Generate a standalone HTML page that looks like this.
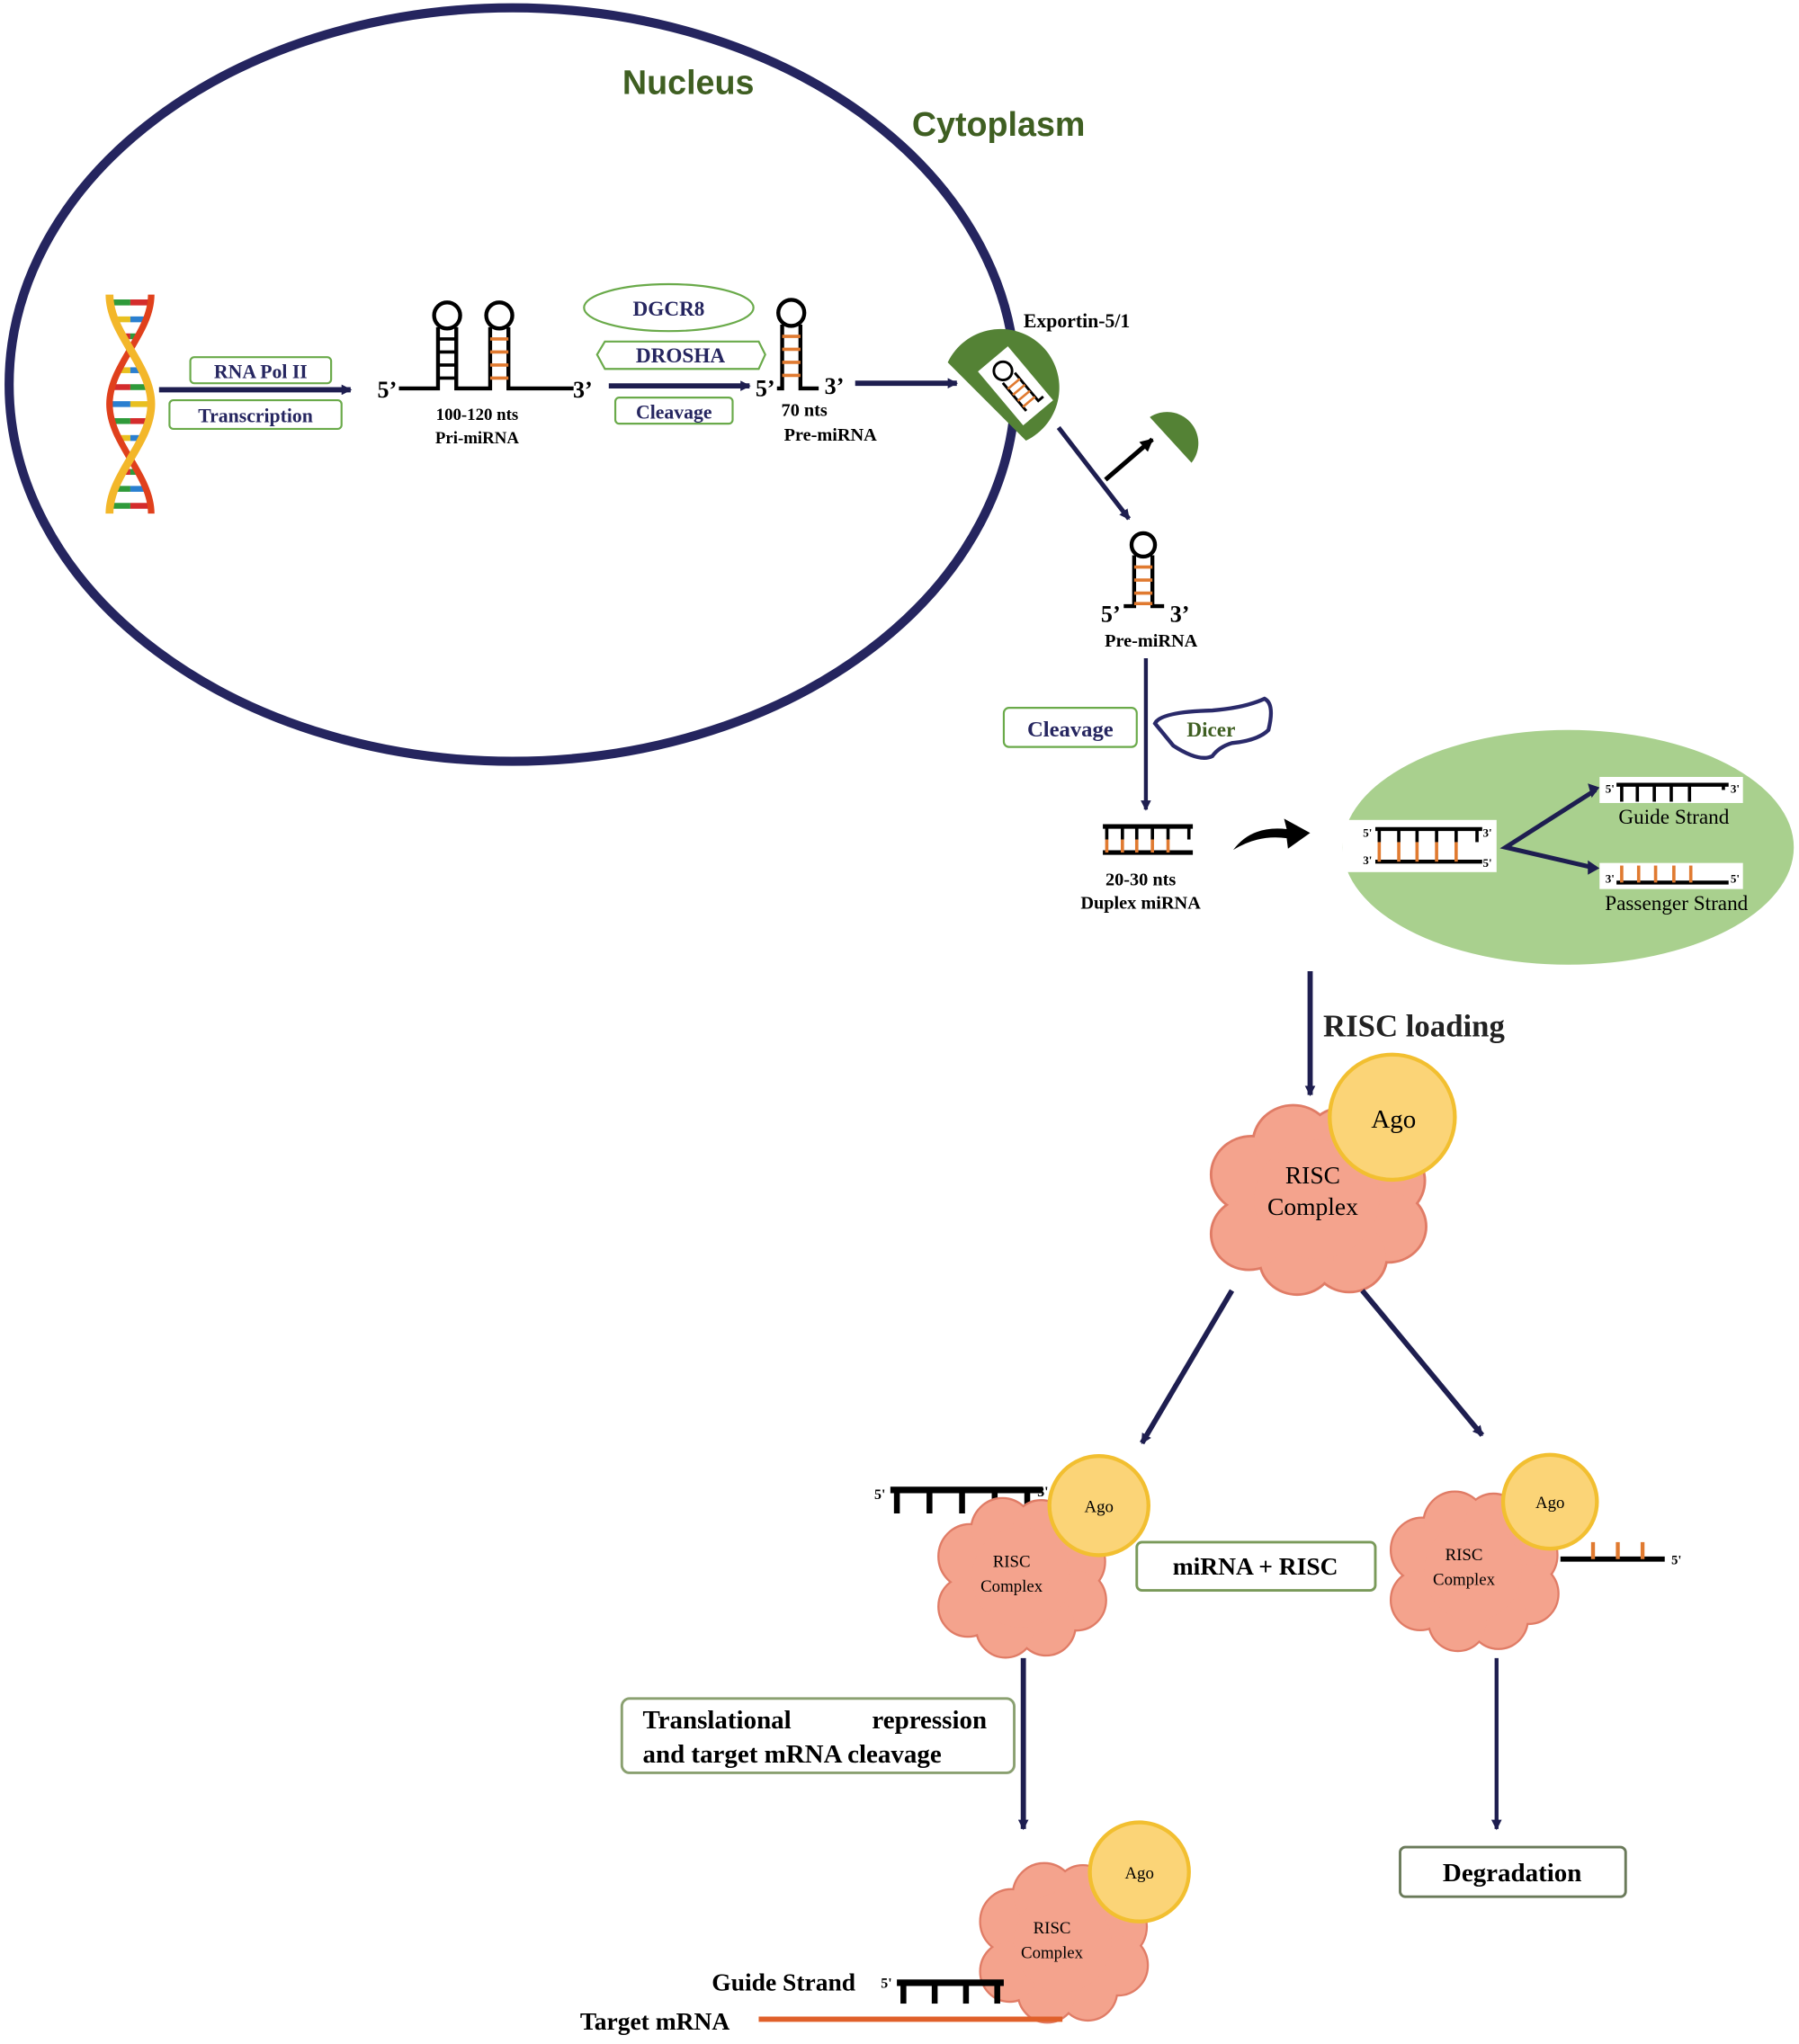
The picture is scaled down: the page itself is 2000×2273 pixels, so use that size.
<!DOCTYPE html>
<html><head><meta charset="utf-8">
<style>
html,body{margin:0;padding:0;background:#fff;}
svg{display:block;}
.t{font-family:"Liberation Serif",serif;font-weight:bold;}
.s{font-family:"Liberation Sans",sans-serif;font-weight:bold;}
</style></head>
<body>
<svg width="2000" height="2273" viewBox="0 0 1380 1568" preserveAspectRatio="none" xmlns="http://www.w3.org/2000/svg">
<defs>
<marker id="ah" markerWidth="8" markerHeight="8" refX="7" refY="4" orient="auto" markerUnits="userSpaceOnUse"><path d="M0,0 L8,4 L0,8 Z" fill="#1e1e50"/></marker>
<marker id="ahk" markerWidth="10" markerHeight="10" refX="9" refY="5" orient="auto" markerUnits="userSpaceOnUse"><path d="M0,0 L10,5 L0,10 Z" fill="#000"/></marker>
<g id="cloudS">
<circle cx="-50" cy="-20" r="30"/><circle cx="-18" cy="-45" r="30"/><circle cx="20" cy="-45" r="28"/><circle cx="52" cy="-15" r="30"/><circle cx="55" cy="22" r="28"/><circle cx="25" cy="46" r="28"/><circle cx="-15" cy="48" r="28"/><circle cx="-52" cy="28" r="28"/><circle cx="0" cy="0" r="48"/>
</g>
<g id="cloud">
<use href="#cloudS" fill="#e07c66" stroke="#e07c66" stroke-width="4"/>
<use href="#cloudS" fill="#f4a38d"/>
</g>
</defs>

<!-- Nucleus -->
<ellipse cx="393" cy="295" rx="386" ry="289" fill="none" stroke="#25255f" stroke-width="7"/>
<text x="528" y="72" class="s" font-size="26" fill="#3f5f22" text-anchor="middle">Nucleus</text>
<text x="766" y="104" class="s" font-size="26" fill="#3f5f22" text-anchor="middle">Cytoplasm</text>

<!-- DNA -->
<g stroke-width="4">
<g stroke-width="4.5">
<line x1="84.4" y1="232" x2="100" y2="232" stroke="#2f9a3a"/><line x1="100" y1="232" x2="115.6" y2="232" stroke="#d42c2c"/>
<line x1="88" y1="245" x2="100" y2="245" stroke="#e8c020"/><line x1="100" y1="245" x2="112" y2="245" stroke="#2a7fd0"/>
<line x1="94" y1="258" x2="100" y2="258" stroke="#d42c2c"/><line x1="100" y1="258" x2="106" y2="258" stroke="#2f9a3a"/>
<line x1="91" y1="284" x2="100" y2="284" stroke="#e8c020"/><line x1="100" y1="284" x2="109" y2="284" stroke="#2a7fd0"/>
<line x1="86" y1="297" x2="100" y2="297" stroke="#d42c2c"/><line x1="100" y1="297" x2="114" y2="297" stroke="#2f9a3a"/>
<line x1="84" y1="310" x2="100" y2="310" stroke="#2a7fd0"/><line x1="100" y1="310" x2="116" y2="310" stroke="#e8c020"/>
<line x1="86" y1="323" x2="100" y2="323" stroke="#2f9a3a"/><line x1="100" y1="323" x2="114" y2="323" stroke="#d42c2c"/>
<line x1="91" y1="336" x2="100" y2="336" stroke="#e8c020"/><line x1="100" y1="336" x2="109" y2="336" stroke="#2a7fd0"/>
<line x1="94" y1="362" x2="100" y2="362" stroke="#d42c2c"/><line x1="100" y1="362" x2="106" y2="362" stroke="#2f9a3a"/>
<line x1="88" y1="375" x2="100" y2="375" stroke="#2f9a3a"/><line x1="100" y1="375" x2="112" y2="375" stroke="#2a7fd0"/>
<line x1="84.4" y1="388" x2="100" y2="388" stroke="#2f9a3a"/><line x1="100" y1="388" x2="115.6" y2="388" stroke="#d42c2c"/>
</g>
<path d="M116,226 C116,256 84,280 84,310 C84,340 116,364 116,394" fill="none" stroke="#e0401c" stroke-width="5"/>
<path d="M84,226 C84,256 116,280 116,310 C116,340 84,364 84,394" fill="none" stroke="#f3b72a" stroke-width="6"/>
</g>

<!-- arrow 1 -->
<line x1="122" y1="299" x2="269" y2="299" stroke="#1e1e50" stroke-width="4" marker-end="url(#ah)"/>
<rect x="146" y="274" width="108" height="20" rx="3" fill="#fff" stroke="#6aaa4a" stroke-width="1.5"/>
<text x="200" y="290" class="t" font-size="15" fill="#262660" text-anchor="middle">RNA Pol II</text>
<rect x="130" y="307" width="132" height="22" rx="3" fill="#fff" stroke="#6aaa4a" stroke-width="1.5"/>
<text x="196" y="324" class="t" font-size="15" fill="#262660" text-anchor="middle">Transcription</text>

<!-- Pri-miRNA -->
<g stroke="#000" stroke-width="3" fill="none">
<path d="M306,298 H336 V251 M350,251 V298 H376 V251 M390,251 V298 H440"/>
<circle cx="343" cy="242" r="10"/><circle cx="383" cy="242" r="10"/>
</g>
<g stroke="#000" stroke-width="2.5">
<line x1="336" y1="260" x2="350" y2="260"/><line x1="336" y1="270" x2="350" y2="270"/><line x1="336" y1="280" x2="350" y2="280"/><line x1="336" y1="290" x2="350" y2="290"/>
</g>
<g stroke="#e07a30" stroke-width="2.5">
<line x1="376" y1="260" x2="390" y2="260"/><line x1="376" y1="270" x2="390" y2="270"/><line x1="376" y1="280" x2="390" y2="280"/><line x1="376" y1="290" x2="390" y2="290"/>
</g>
<text x="297" y="305" class="t" font-size="18" text-anchor="middle">5’</text>
<text x="447" y="305" class="t" font-size="18" text-anchor="middle">3’</text>
<text x="366" y="322" class="t" font-size="13" text-anchor="middle">100-120 nts</text>
<text x="366" y="340" class="t" font-size="13" text-anchor="middle">Pri-miRNA</text>

<!-- DGCR8 / DROSHA -->
<ellipse cx="513" cy="236" rx="65" ry="18" fill="#fff" stroke="#6aaa4a" stroke-width="1.5"/>
<text x="513" y="242" class="t" font-size="16" fill="#262660" text-anchor="middle">DGCR8</text>
<polygon points="464,262 582,262 587,272 582,283 464,283 458,272" fill="#fff" stroke="#6aaa4a" stroke-width="1.5"/>
<text x="522" y="278" class="t" font-size="16" fill="#262660" text-anchor="middle">DROSHA</text>
<line x1="467" y1="296" x2="575" y2="296" stroke="#1e1e50" stroke-width="4" marker-end="url(#ah)"/>
<rect x="472" y="305" width="90" height="20" rx="3" fill="#fff" stroke="#6aaa4a" stroke-width="1.5"/>
<text x="517" y="321" class="t" font-size="15" fill="#262660" text-anchor="middle">Cleavage</text>

<!-- Pre-miRNA nucleus -->
<g stroke="#000" stroke-width="3" fill="none">
<path d="M596,298 H600 V249 M614,249 V298 H628"/>
<circle cx="607" cy="240" r="10"/>
</g>
<g stroke="#e07a30" stroke-width="2.5">
<line x1="600" y1="258" x2="614" y2="258"/><line x1="600" y1="268" x2="614" y2="268"/><line x1="600" y1="278" x2="614" y2="278"/><line x1="600" y1="288" x2="614" y2="288"/>
</g>
<text x="587" y="304" class="t" font-size="18" text-anchor="middle">5’</text>
<text x="640" y="302" class="t" font-size="18" text-anchor="middle">3’</text>
<text x="617" y="319" class="t" font-size="14" text-anchor="middle">70 nts</text>
<text x="637" y="338" class="t" font-size="14" text-anchor="middle">Pre-miRNA</text>
<line x1="656" y1="294" x2="734" y2="294" stroke="#1e1e50" stroke-width="4" marker-end="url(#ah)"/>

<!-- Exportin -->
<path d="M727,278 A45,45 0 1 1 787,338 Z" fill="#548235"/>
<g transform="translate(779,296) rotate(-40)">
<rect x="-15" y="-27" width="30" height="54" fill="#fff"/>
<g stroke="#000" stroke-width="2" fill="none"><path d="M-6,-8 V20 M6,-8 V20 H11"/><circle cx="0" cy="-15" r="7"/></g>
<g stroke="#e07a30" stroke-width="1.8"><line x1="-6" y1="-2" x2="6" y2="-2"/><line x1="-6" y1="4" x2="6" y2="4"/><line x1="-6" y1="10" x2="6" y2="10"/><line x1="-6" y1="16" x2="6" y2="16"/></g>
</g>
<text x="826" y="251" class="t" font-size="15" text-anchor="middle">Exportin-5/1</text>

<line x1="812" y1="328" x2="866" y2="398" stroke="#1e1e50" stroke-width="3.5" marker-end="url(#ah)"/>
<line x1="848" y1="368" x2="884" y2="337" stroke="#000" stroke-width="3.5" marker-end="url(#ahk)"/>
<path d="M882,320 A24,24 0 0 1 914,355 Z" fill="#548235"/>

<!-- Pre-miRNA cytoplasm -->
<g stroke="#000" stroke-width="3" fill="none">
<path d="M862,465 H870 V426 M884,426 V465 H893"/>
<circle cx="877" cy="418" r="9"/>
</g>
<g stroke="#e07a30" stroke-width="2.5">
<line x1="870" y1="435" x2="884" y2="435"/><line x1="870" y1="445" x2="884" y2="445"/><line x1="870" y1="455" x2="884" y2="455"/><line x1="870" y1="463" x2="884" y2="463"/>
</g>
<text x="852" y="477" class="t" font-size="18" text-anchor="middle">5’</text>
<text x="905" y="477" class="t" font-size="18" text-anchor="middle">3’</text>
<text x="883" y="496" class="t" font-size="14" text-anchor="middle">Pre-miRNA</text>
<line x1="879" y1="505" x2="879" y2="621" stroke="#1e1e50" stroke-width="3" marker-end="url(#ah)"/>
<rect x="770" y="543" width="102" height="30" rx="4" fill="#fff" stroke="#6aaa4a" stroke-width="1.5"/>
<text x="821" y="565" class="t" font-size="17" fill="#262660" text-anchor="middle">Cleavage</text>
<path d="M886,555 Q890,546 930,545 Q955,543 970,536 Q978,540 973,560 Q965,568 945,570 Q935,573 930,580 Q920,585 900,572 Z" fill="none" stroke="#2a2a6a" stroke-width="3"/>
<text x="929" y="565" class="t" font-size="16" fill="#3f5f22" text-anchor="middle">Dicer</text>

<!-- duplex -->
<line x1="846" y1="634" x2="915" y2="634" stroke="#000" stroke-width="3.5"/>
<line x1="846" y1="654" x2="915" y2="654" stroke="#000" stroke-width="3.5"/>
<g stroke-width="2.5"><g stroke="#000"><line x1="849" y1="634" x2="849" y2="644"/><line x1="861" y1="634" x2="861" y2="644"/><line x1="872" y1="634" x2="872" y2="644"/><line x1="884" y1="634" x2="884" y2="644"/><line x1="896" y1="634" x2="896" y2="644"/><line x1="912" y1="634" x2="912" y2="644"/></g>
<g stroke="#e07a30"><line x1="849" y1="644" x2="849" y2="654"/><line x1="861" y1="644" x2="861" y2="654"/><line x1="872" y1="644" x2="872" y2="654"/><line x1="884" y1="644" x2="884" y2="654"/><line x1="896" y1="644" x2="896" y2="654"/></g></g>
<text x="875" y="679" class="t" font-size="14" text-anchor="middle">20-30 nts</text>
<text x="875" y="697" class="t" font-size="14" text-anchor="middle">Duplex miRNA</text>
<path d="M946,652 Q960,633 987,636 L985,628 L1005,639 L988,651 L987,643 Q965,640 946,652 Z" fill="#000"/>

<!-- green ellipse -->
<ellipse cx="1203" cy="650" rx="173" ry="90" fill="#a9d08e"/>
<rect x="1030" y="629" width="118" height="40" fill="#fff"/>
<line x1="1055" y1="636" x2="1137" y2="636" stroke="#000" stroke-width="3"/>
<line x1="1055" y1="661" x2="1137" y2="661" stroke="#000" stroke-width="3"/>
<g stroke-width="2.5"><g stroke="#000"><line x1="1058" y1="636" x2="1058" y2="646"/><line x1="1073" y1="636" x2="1073" y2="646"/><line x1="1087" y1="636" x2="1087" y2="646"/><line x1="1102" y1="636" x2="1102" y2="646"/><line x1="1117" y1="636" x2="1117" y2="646"/><line x1="1133" y1="636" x2="1133" y2="646"/></g>
<g stroke="#e07a30"><line x1="1058" y1="646" x2="1058" y2="661"/><line x1="1073" y1="646" x2="1073" y2="661"/><line x1="1087" y1="646" x2="1087" y2="661"/><line x1="1102" y1="646" x2="1102" y2="661"/><line x1="1117" y1="646" x2="1117" y2="661"/></g></g>
<text x="1049" y="642" class="t" font-size="9" text-anchor="middle">5'</text><text x="1141" y="642" class="t" font-size="9" text-anchor="middle">3'</text>
<text x="1049" y="663" class="t" font-size="9" text-anchor="middle">3'</text><text x="1141" y="665" class="t" font-size="9" text-anchor="middle">5'</text>
<path d="M1224,606 L1155,650 L1224,666" fill="none" stroke="#1e1e50" stroke-width="3.5"/>
<path d="M1218,601 L1227,604 L1221,612 Z M1218,660 L1227,666 L1218,671 Z" fill="#1e1e50"/>
<rect x="1227" y="596" width="110" height="20" fill="#fff"/>
<line x1="1240" y1="602" x2="1326" y2="602" stroke="#000" stroke-width="3"/>
<g stroke="#000" stroke-width="2.5"><line x1="1244" y1="602" x2="1244" y2="615"/><line x1="1256" y1="602" x2="1256" y2="615"/><line x1="1269" y1="602" x2="1269" y2="615"/><line x1="1282" y1="602" x2="1282" y2="615"/><line x1="1296" y1="602" x2="1296" y2="615"/><line x1="1322" y1="602" x2="1322" y2="606"/></g>
<text x="1235" y="608" class="t" font-size="9" text-anchor="middle">5'</text><text x="1331" y="608" class="t" font-size="9" text-anchor="middle">3'</text>
<text x="1284" y="632" font-family="Liberation Serif,serif" font-size="16" text-anchor="middle">Guide Strand</text>
<rect x="1227" y="662" width="110" height="20" fill="#fff"/>
<line x1="1240" y1="677" x2="1326" y2="677" stroke="#000" stroke-width="3"/>
<g stroke="#e07a30" stroke-width="2.5"><line x1="1244" y1="664" x2="1244" y2="677"/><line x1="1257" y1="664" x2="1257" y2="677"/><line x1="1270" y1="664" x2="1270" y2="677"/><line x1="1284" y1="664" x2="1284" y2="677"/><line x1="1297" y1="664" x2="1297" y2="677"/></g>
<text x="1235" y="677" class="t" font-size="9" text-anchor="middle">3'</text><text x="1331" y="677" class="t" font-size="9" text-anchor="middle">5'</text>
<text x="1286" y="698" font-family="Liberation Serif,serif" font-size="16" text-anchor="middle">Passenger Strand</text>

<!-- RISC loading -->
<line x1="1005" y1="745" x2="1005" y2="840" stroke="#1e1e50" stroke-width="4" marker-end="url(#ah)"/>
<text x="1015" y="795" class="t" font-size="24" fill="#222">RISC loading</text>
<use href="#cloud" transform="translate(1010,920) scale(1.0,0.95)"/>
<circle cx="1068" cy="857" r="48" fill="#fbd477" stroke="#f2bf30" stroke-width="3"/>
<text x="1069" y="865" font-family="Liberation Serif,serif" font-size="20" text-anchor="middle">Ago</text>
<text x="1007" y="908" font-family="Liberation Serif,serif" font-size="19" text-anchor="middle">RISC</text>
<text x="1007" y="932" font-family="Liberation Serif,serif" font-size="19" text-anchor="middle">Complex</text>

<line x1="945" y1="990" x2="876" y2="1107" stroke="#1e1e50" stroke-width="4" marker-end="url(#ah)"/>
<line x1="1045" y1="990" x2="1137" y2="1101" stroke="#1e1e50" stroke-width="4" marker-end="url(#ah)"/>

<!-- left cluster -->
<line x1="683" y1="1143" x2="800" y2="1143" stroke="#000" stroke-width="5"/>
<g stroke="#000" stroke-width="4.5"><line x1="688" y1="1143" x2="688" y2="1161"/><line x1="713" y1="1143" x2="713" y2="1161"/><line x1="738" y1="1143" x2="738" y2="1161"/><line x1="763" y1="1143" x2="763" y2="1161"/><line x1="788" y1="1143" x2="788" y2="1161"/></g>
<text x="675" y="1150" class="t" font-size="11" text-anchor="middle">5'</text><text x="800" y="1148" class="t" font-size="11" text-anchor="middle">3'</text>
<use href="#cloud" transform="translate(783,1210) scale(0.78,0.8)"/>
<circle cx="843" cy="1155" r="38" fill="#fbd477" stroke="#f2bf30" stroke-width="3"/>
<text x="843" y="1160" font-family="Liberation Serif,serif" font-size="13" text-anchor="middle">Ago</text>
<text x="776" y="1202" font-family="Liberation Serif,serif" font-size="13" text-anchor="middle">RISC</text>
<text x="776" y="1221" font-family="Liberation Serif,serif" font-size="13" text-anchor="middle">Complex</text>

<rect x="872" y="1183" width="183" height="37" rx="4" fill="#fff" stroke="#7a9a5a" stroke-width="2"/>
<text x="963" y="1208" class="t" font-size="19" text-anchor="middle">miRNA + RISC</text>

<!-- right cluster -->
<use href="#cloud" transform="translate(1130,1205) scale(0.78,0.8)"/>
<circle cx="1189" cy="1152" r="36" fill="#fbd477" stroke="#f2bf30" stroke-width="3"/>
<text x="1189" y="1157" font-family="Liberation Serif,serif" font-size="13" text-anchor="middle">Ago</text>
<text x="1123" y="1197" font-family="Liberation Serif,serif" font-size="13" text-anchor="middle">RISC</text>
<text x="1123" y="1216" font-family="Liberation Serif,serif" font-size="13" text-anchor="middle">Complex</text>
<line x1="1197" y1="1196" x2="1277" y2="1196" stroke="#000" stroke-width="4"/>
<g stroke="#e07a30" stroke-width="3"><line x1="1222" y1="1183" x2="1222" y2="1196"/><line x1="1241" y1="1183" x2="1241" y2="1196"/><line x1="1260" y1="1183" x2="1260" y2="1196"/></g>
<text x="1286" y="1200" class="t" font-size="10" text-anchor="middle">5'</text>

<line x1="785" y1="1272" x2="785" y2="1403" stroke="#1e1e50" stroke-width="4" marker-end="url(#ah)"/>
<line x1="1148" y1="1272" x2="1148" y2="1403" stroke="#1e1e50" stroke-width="3" marker-end="url(#ah)"/>

<rect x="477" y="1303" width="301" height="57" rx="6" fill="#fff" stroke="#8aa070" stroke-width="2"/>
<text x="493" y="1326" class="t" font-size="20">Translational</text>
<text x="757" y="1326" class="t" font-size="20" text-anchor="end">repression</text>
<text x="493" y="1352" class="t" font-size="20">and target mRNA cleavage</text>

<rect x="1074" y="1417" width="173" height="38" rx="4" fill="#fff" stroke="#6a7a5a" stroke-width="2"/>
<text x="1160" y="1443" class="t" font-size="20" text-anchor="middle">Degradation</text>

<!-- bottom cluster -->
<use href="#cloud" transform="translate(815,1490) scale(0.78,0.8)"/>
<circle cx="874" cy="1436" r="38" fill="#fbd477" stroke="#f2bf30" stroke-width="3"/>
<text x="874" y="1441" font-family="Liberation Serif,serif" font-size="13" text-anchor="middle">Ago</text>
<text x="807" y="1483" font-family="Liberation Serif,serif" font-size="13" text-anchor="middle">RISC</text>
<text x="807" y="1502" font-family="Liberation Serif,serif" font-size="13" text-anchor="middle">Complex</text>
<line x1="688" y1="1521" x2="770" y2="1521" stroke="#000" stroke-width="5"/>
<g stroke="#000" stroke-width="4.5"><line x1="693" y1="1521" x2="693" y2="1537"/><line x1="717" y1="1521" x2="717" y2="1537"/><line x1="741" y1="1521" x2="741" y2="1537"/><line x1="765" y1="1521" x2="765" y2="1537"/></g>
<text x="546" y="1527" font-family="Liberation Serif,serif" font-weight="bold" font-size="19">Guide Strand</text>
<text x="680" y="1525" class="t" font-size="11" text-anchor="middle">5'</text>
<text x="445" y="1557" font-family="Liberation Serif,serif" font-weight="bold" font-size="19">Target mRNA</text>
<line x1="582" y1="1549" x2="815" y2="1549" stroke="#e0602a" stroke-width="4"/>
</svg>
</body></html>
